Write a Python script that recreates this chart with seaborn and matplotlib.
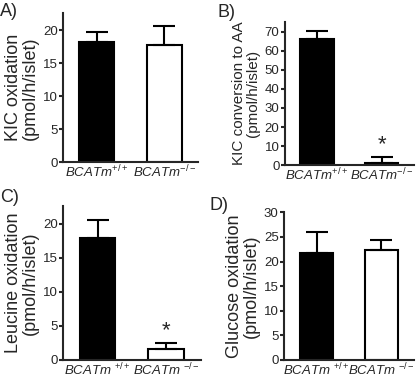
import numpy as np
import matplotlib
matplotlib.use("Agg")
import matplotlib.pyplot as plt
import seaborn as sns

# Data (mean, SEM)
genotypes = ["wt", "ko"]
kic_ox = [18.3, 17.8]
kic_ox_sem = [1.5, 2.9]
kic_aa = [66.0, 1.2]
kic_aa_sem = [4.3, 3.3]
leu_ox = [17.9, 1.6]
leu_ox_sem = [2.6, 0.9]
glc_ox = [21.8, 22.3]
glc_ox_sem = [4.2, 2.1]

labels_tight = [r"$BCATm^{+/+}$", r"$BCATm^{-/-}$"]
labels_space = [r"$BCATm$ $^{+/+}$", r"$BCATm$ $^{-/-}$"]

sns.set_style("ticks")
plt.rcParams["font.family"] = ["Liberation Sans", "DejaVu Sans"]
plt.rcParams["mathtext.fontset"] = "custom"
plt.rcParams["mathtext.rm"] = "Liberation Sans"
plt.rcParams["mathtext.it"] = "Liberation Sans:italic"

fig = plt.figure(figsize=(4.16, 3.80), dpi=100)

panels = [
    # letter, values, sem, ylabel, label size, ylim, yticks, star, xlabels, axes rect, letter pos
    ("A)", kic_ox, kic_ox_sem, "KIC oxidation\n(pmol/h/islet)", 13, 22.6, np.arange(0, 21, 5),
     False, labels_tight, [0.152, 0.573, 0.324, 0.392], (0.0, 0.971)),
    ("B)", kic_aa, kic_aa_sem, "KIC conversion to AA\n(pmol/h/islet)", 11, 75.2, np.arange(0, 71, 10),
     True, labels_tight, [0.685, 0.565, 0.31, 0.378], (0.522, 0.968)),
    ("C)", leu_ox, leu_ox_sem, "Leucine oxidation\n(pmol/h/islet)", 13, 22.6, np.arange(0, 21, 5),
     True, labels_space, [0.152, 0.053, 0.330, 0.405], (0.0, 0.479)),
    ("D)", glc_ox, glc_ox_sem, "Glucose oxidation\n(pmol/h/islet)", 13, 30, np.arange(0, 31, 5),
     False, labels_space, [0.683, 0.053, 0.312, 0.388], (0.503, 0.458)),
]

for letter, vals, sem, ylab, lsize, ytop, yt, star, xl, rect, lpos in panels:
    ax = fig.add_axes(rect)
    sns.barplot(x=genotypes, y=vals, hue=genotypes, palette=["black", "white"],
                edgecolor="black", linewidth=1.5, width=0.52, errorbar=None,
                legend=False, ax=ax)
    ax.errorbar(x=[0, 1], y=vals, yerr=[[0, 0], sem], fmt="none", ecolor="black",
                elinewidth=1.5, capsize=8, capthick=1.5, zorder=1)
    if star:
        ax.annotate("*", xy=(1, vals[1] + sem[1]), xytext=(0, 1), textcoords="offset points",
                    ha="center", va="bottom", fontsize=16)
    ax.set_xlim(-0.5, 1.5)
    ax.set_ylim(0, ytop)
    ax.set_yticks(yt)
    ax.set_xticks([0, 1])
    ax.set_xticklabels(xl, fontsize=9.5)
    ax.tick_params(axis="y", labelsize=9.5, length=3, width=1.5, pad=1)
    ax.tick_params(axis="x", length=0, pad=1)
    ax.set_ylabel(ylab, fontsize=lsize, labelpad=3, linespacing=1.0)
    ax.set_xlabel("")
    for s in ["left", "bottom"]:
        ax.spines[s].set_linewidth(1.5)
    sns.despine(ax=ax)
    fig.text(lpos[0], lpos[1], letter, fontsize=13, ha="left", va="center")

fig.savefig("out.png", dpi=100)
